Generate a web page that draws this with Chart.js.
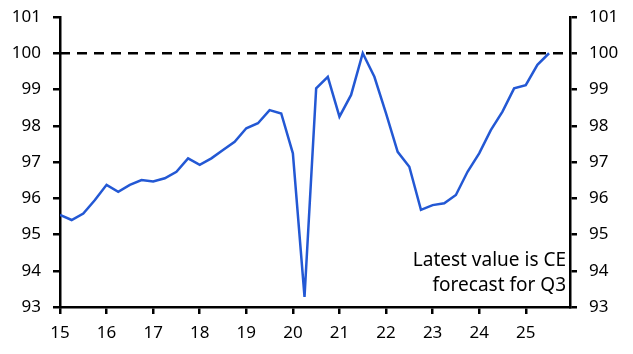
<!DOCTYPE html>
<html>
<head>
<meta charset="utf-8">
<script src="https://cdn.jsdelivr.net/npm/chart.js@4/dist/chart.umd.min.js"></script>
<style>
  body { margin: 0; background: #fff; }
  #wrap { width: 633px; height: 354px; }
</style>
</head>
<body>
<div id="wrap"><canvas id="line-chart"></canvas></div>
<script>
// quarterly index, 2015 Q1 .. 2025 Q3 (last point is CE forecast)
var startYear = 15;
var values = [
  95.54, 95.40, 95.58, 95.95,
  96.37, 96.18, 96.37, 96.50,
  96.46, 96.55, 96.73, 97.10,
  96.92, 97.10, 97.33, 97.56,
  97.93, 98.07, 98.43, 98.34,
  97.24, 93.28, 99.03, 99.35,
  98.25, 98.85, 100.0, 99.35,
  98.34, 97.28, 96.87, 95.68,
  95.81, 95.86, 96.09, 96.73,
  97.24, 97.88, 98.39, 99.03,
  99.12, 99.68, 100.0
];
var refLevel = 100;
var yTicks = [93, 94, 95, 96, 97, 98, 99, 100, 101];
var xTicks = [15, 16, 17, 18, 19, 20, 21, 22, 23, 24, 25];
var noteLines = ["Latest value is CE", "forecast for Q3"];

var points = values.map(function (v, i) {
  return { x: startYear + i / 4, y: v };
});
var xMax = 25.95;

var font = { family: "'Noto Sans', sans-serif", size: 17 };

// note in lower right corner
var notePlugin = {
  id: 'note',
  afterDraw: function (chart) {
    var ctx = chart.ctx, a = chart.chartArea;
    ctx.save();
    ctx.font = "19px 'Noto Sans', sans-serif";
    ctx.fillStyle = '#000';
    ctx.textAlign = 'right';
    ctx.textBaseline = 'alphabetic';
    ctx.fillText(noteLines[0], a.right - 4, 266);
    ctx.fillText(noteLines[1], a.right - 4, 291);
    ctx.restore();
  }
};

function yAxis(pos, width) {
  return {
    type: 'linear',
    position: pos,
    min: yTicks[0],
    max: yTicks[yTicks.length - 1],
    afterBuildTicks: function (s) { s.ticks = yTicks.map(function (v) { return { value: v }; }); },
    afterFit: function (s) { s.width = width; s.paddingTop = 0; s.paddingBottom = 0; },
    border: { color: '#000', width: 2.5 },
    grid: { drawOnChartArea: false, color: '#000', lineWidth: 2.5, tickLength: 7 },
    ticks: { color: '#000', font: font, padding: 12 }
  };
}

new Chart(document.getElementById("line-chart"), {
  type: 'line',
  data: {
    datasets: [
      {
        data: points,
        borderColor: '#2358d4',
        borderWidth: 2.5,
        pointRadius: 0,
        tension: 0,
        yAxisID: 'y'
      },
      {
        data: [{ x: startYear, y: refLevel }, { x: xMax, y: refLevel }],
        borderColor: '#000',
        borderWidth: 2.5,
        borderDash: [10, 7],
        pointRadius: 0,
        yAxisID: 'y'
      }
    ]
  },
  options: {
    responsive: true,
    maintainAspectRatio: false,
    animation: false,
    layout: { padding: { top: 17, left: 0, right: 0, bottom: 0 } },
    plugins: { legend: { display: false }, tooltip: { enabled: false } },
    scales: {
      x: {
        type: 'linear',
        min: startYear,
        max: xMax,
        afterBuildTicks: function (s) { s.ticks = xTicks.map(function (v) { return { value: v }; }); },
        afterFit: function (s) { s.height = 47; s.paddingLeft = 0; s.paddingRight = 0; },
        border: { color: '#000', width: 2.5 },
        grid: { drawOnChartArea: false, color: '#000', lineWidth: 2.5, tickLength: 7 },
        ticks: { color: '#000', font: font, padding: 9, maxRotation: 0 }
      },
      y: yAxis('left', 60),
      y2: yAxis('right', 63)
    }
  },
  plugins: [notePlugin]
});
</script>
</body>
</html>
